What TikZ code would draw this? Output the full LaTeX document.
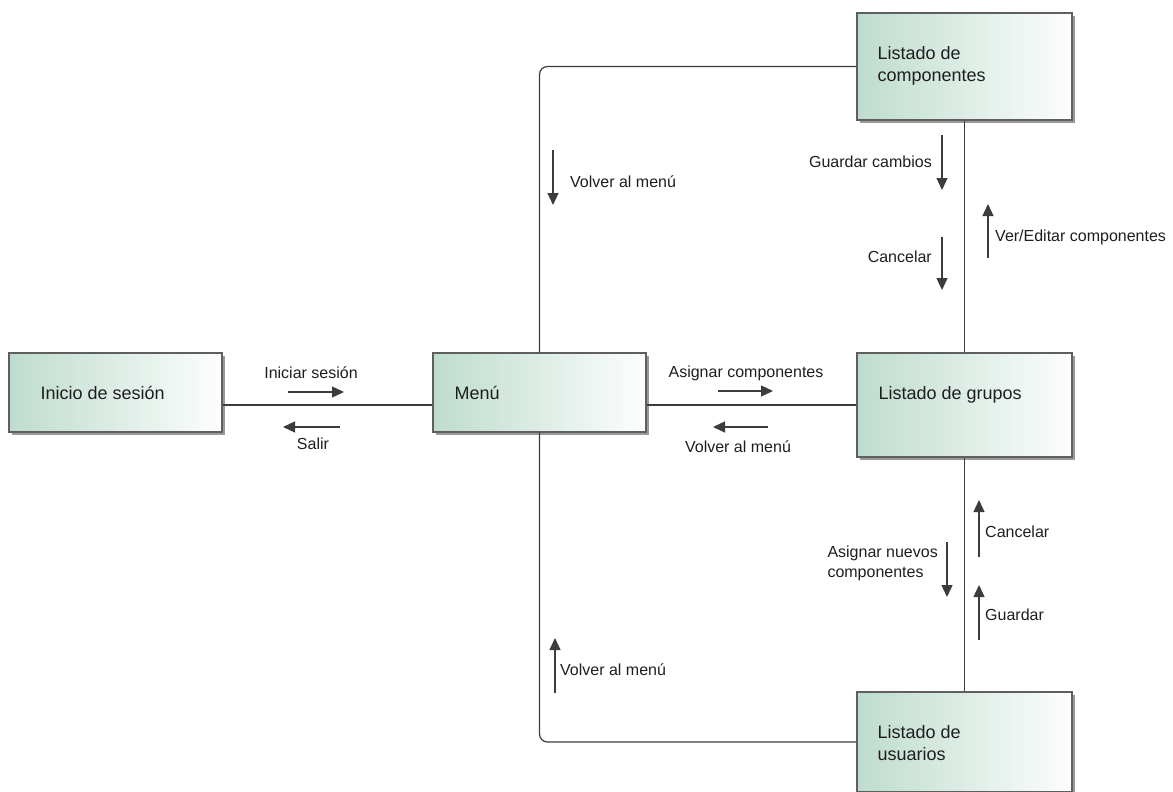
\documentclass[tikz,border=0pt]{standalone}
\usepackage{fontspec}
\setmainfont{Liberation Sans}
\usetikzlibrary{arrows.meta,shadows}
\definecolor{boxgreen}{RGB}{190,220,206}
\definecolor{boxborder}{RGB}{95,95,95}
\definecolor{linegray}{RGB}{60,60,60}
\definecolor{textgray}{RGB}{30,30,30}

\begin{document}
\begin{tikzpicture}[x=1pt,y=-1pt,
	state_node/.style={rectangle,draw=boxborder,line width=1.2pt,left color=boxgreen,right color=white!96!boxgreen,
		drop shadow={shadow xshift=3pt,shadow yshift=-3pt,fill=gray!80,opacity=1},inner sep=0pt},
	box_text/.style={anchor=north west,inner sep=0pt,align=left,text=textgray,font=\fontsize{18}{22}\selectfont},
	link_line/.style={draw=linegray,line width=1.2pt},
	flow_arrow/.style={draw=linegray,line width=1.3pt,-{Triangle[length=12pt,width=11pt]}},
	flow_label/.style={inner sep=0pt,text=textgray,align=left,font=\fontsize{16}{20}\selectfont}]
	
	\useasboundingbox (0,0) rectangle (1173,792);
	
	\node[state_node,minimum width=213pt,minimum height=79pt] (inicio) at (115.5,392.5) {};
	\node[state_node,minimum width=213pt,minimum height=79pt] (menu) at (539.5,392.5) {};
	\node[state_node,minimum width=215pt,minimum height=107pt] (componentes) at (964.5,66.5) {};
	\node[state_node,minimum width=215pt,minimum height=104pt] (grupos) at (964.5,405) {};
	\node[state_node,minimum width=215pt,minimum height=100pt] (usuarios) at (964.5,742) {};
	
	\node[box_text] (inicio_t) at ([xshift=32pt,yshift=-34pt]inicio.north west) {Inicio de sesión};
	\node[box_text] (menu_t) at ([xshift=22pt,yshift=-34pt]menu.north west) {Menú};
	\node[box_text] (componentes_t) at ([xshift=21pt,yshift=-34pt]componentes.north west) {Listado de\\componentes};
	\node[box_text] (grupos_t) at ([xshift=22pt,yshift=-34pt]grupos.north west) {Listado de grupos};
	\node[box_text] (usuarios_t) at ([xshift=21pt,yshift=-34pt]usuarios.north west) {Listado de\\usuarios};
	
	% connections
	\draw[link_line] (inicio.east |- grupos.west) -- (menu.west |- grupos.west);
	\draw[link_line] (menu.east |- grupos.west) -- (grupos.west);
	\draw[link_line,rounded corners=8pt] (menu.north) |- (componentes.west);
	\draw[link_line,rounded corners=8pt] (menu.south) |- (usuarios.west);
	\draw[link_line] (componentes.south) -- (grupos.north);
	\draw[link_line] (grupos.south) -- (usuarios.north);
	
	% labels
	\node[flow_label] (iniciar) at (311,373) {Iniciar sesión};
	\node[flow_label] (salir) at (313,444) {Salir};
	\node[flow_label] (asignar) at (746,373) {Asignar componentes};
	\node[flow_label] (volver_der) at (738,447) {Volver al menú};
	\node[flow_label,anchor=west] (volver_arr) at (570,182) {Volver al menú};
	\node[flow_label,anchor=west] (volver_ab) at (560,670) {Volver al menú};
	\node[flow_label,anchor=east] (guardar_camb) at (932,162) {Guardar cambios};
	\node[flow_label,anchor=east] (cancelar_arr) at (932,257) {Cancelar};
	\node[flow_label,anchor=west] (ver_editar) at (995,237) {Ver/Editar componentes};
	\node[flow_label,anchor=west] (cancelar_ab) at (985,532) {Cancelar};
	\node[flow_label,anchor=east] (asignar_nuevos) at (938,563) {Asignar nuevos\\componentes};
	\node[flow_label,anchor=west] (guardar) at (985,615) {Guardar};
	
	% direction arrows
	\draw[flow_arrow] (288,392) -- (344,392);
	\draw[flow_arrow] (340,427) -- (283,427);
	\draw[flow_arrow] (718,391) -- (773,391);
	\draw[flow_arrow] (768,427) -- (713,427);
	\draw[flow_arrow] (553,150) -- (553,205);
	\draw[flow_arrow] (555,693) -- (555,638);
	\draw[flow_arrow] (942,135) -- (942,190);
	\draw[flow_arrow] (942,237) -- (942,290);
	\draw[flow_arrow] (988,258) -- (988,204);
	\draw[flow_arrow] (979,557) -- (979,500);
	\draw[flow_arrow] (947,542) -- (947,597);
	\draw[flow_arrow] (979,640) -- (979,585);
\end{tikzpicture}
\end{document}
